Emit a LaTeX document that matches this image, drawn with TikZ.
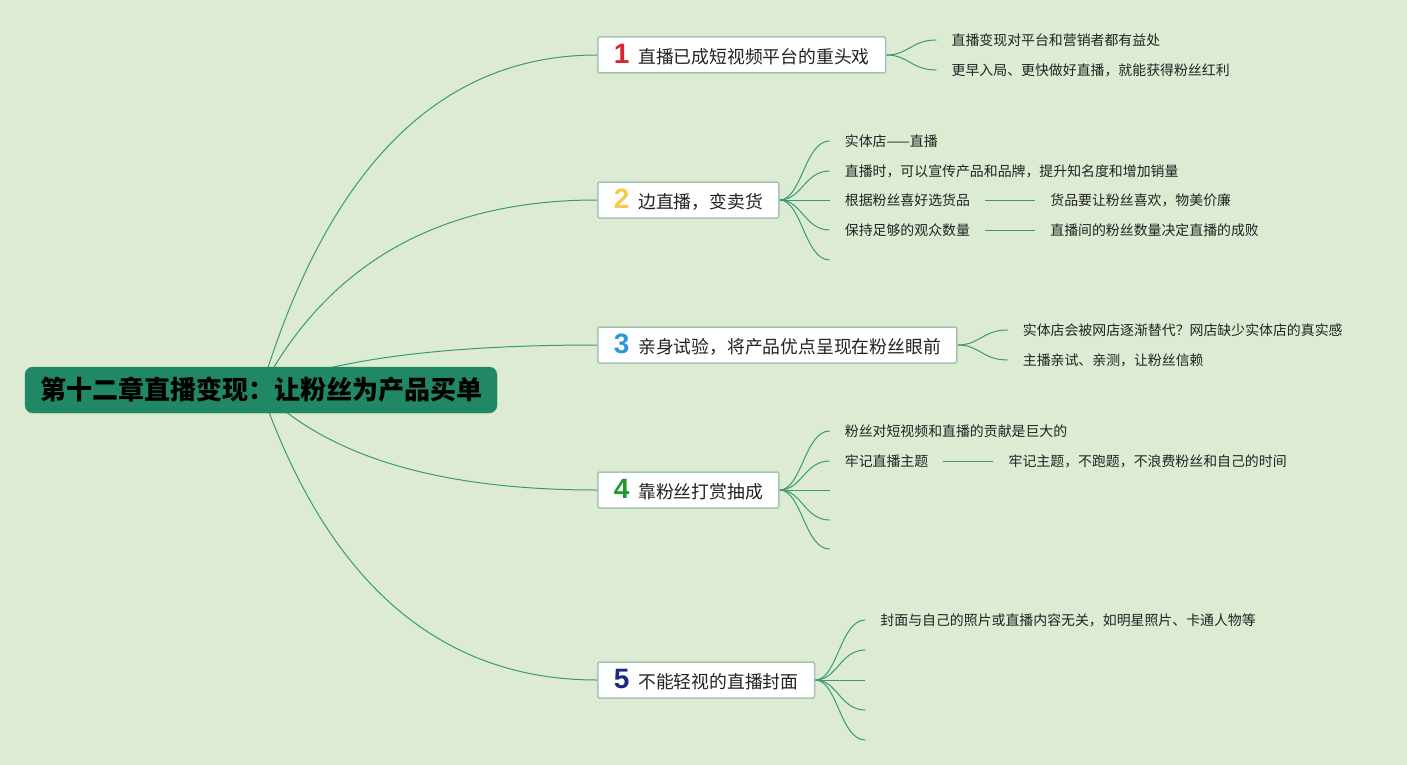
\documentclass[tikz,border=0pt]{standalone}
\usepackage{fontspec}
\setmainfont{Noto Sans CJK SC}
\newfontfamily\numfont{Liberation Sans}
\usepackage{tikz}
\usetikzlibrary{positioning, calc, backgrounds}
\definecolor{paper}{HTML}{DCEBD2}
\definecolor{rootgreen}{HTML}{218866}
\definecolor{linegreen}{HTML}{3A9A72}
\definecolor{boxline}{HTML}{A3C4B4}
\definecolor{ink}{HTML}{222222}
\definecolor{numred}{HTML}{D9252E}
\definecolor{numyellow}{HTML}{F2CB4A}
\definecolor{numblue}{HTML}{2A98DC}
\definecolor{numgreen}{HTML}{1F9A2C}
\definecolor{numnavy}{HTML}{1D2A7C}
\newcommand\rootfont{\fontsize{26pt}{30pt}\selectfont\bfseries}
\newcommand\branchfont{\fontsize{17.8pt}{21pt}\selectfont}
\newcommand\leaffont{\fontsize{13.9pt}{17pt}\selectfont}
\newcommand\badge[2]{{\numfont\bfseries\fontsize{28pt}{28pt}\selectfont\color{#1}#2}\hspace{9pt}}
\tikzset{
  root/.style   = {rectangle, rounded corners=8pt, draw=rootgreen, fill=rootgreen,
                   minimum width=472pt, minimum height=46pt, inner xsep=15pt,
                   font=\rootfont, text=black},
  branch/.style = {rectangle, rounded corners=2pt, draw=boxline, line width=1.5pt,
                   fill=white, anchor=west, minimum height=36pt, inner xsep=16pt,
                   inner ysep=0pt, font=\branchfont, text=ink},
  leaf/.style   = {anchor=west, inner xsep=15pt, inner ysep=2pt, font=\leaffont, text=ink},
  limb/.style   = {draw=linegreen, line width=1pt},
  twig/.style   = {draw=linegreen, line width=1pt}
}
\begin{document}
\begin{tikzpicture}[x=1pt, y=-1pt]
  \useasboundingbox (0,0) rectangle (1407,765);
  \node[root] (root) at (261,390) {第十二章直播变现：让粉丝为产品买单};

  \node[branch] (b1) at (597,55)  {\badge{numred}{1}直播已成短视频平台的重头戏};
  \node[branch] (b2) at (597,200) {\badge{numyellow}{2}边直播，变卖货};
  \node[branch] (b3) at (597,345) {\badge{numblue}{3}亲身试验，将产品优点呈现在粉丝眼前};
  \node[branch] (b4) at (597,490) {\badge{numgreen}{4}靠粉丝打赏抽成};
  \node[branch] (b5) at (597,680) {\badge{numnavy}{5}不能轻视的直播封面};

  \node[leaf] (l11) at ($(b1.east)+(50,-15)$) {直播变现对平台和营销者都有益处};
  \node[leaf] (l12) at ($(b1.east)+(50,15)$)  {更早入局、更快做好直播，就能获得粉丝红利};

  \node[leaf] (l21) at ($(b2.east)+(50,-59)$) {实体店——直播};
  \node[leaf] (l22) at ($(b2.east)+(50,-29)$) {直播时，可以宣传产品和品牌，提升知名度和增加销量};
  \node[leaf] (l23) at ($(b2.east)+(50,0)$)   {根据粉丝喜好选货品};
  \node[leaf] (l24) at ($(b2.east)+(50,30)$)  {保持足够的观众数量};
  \node[leaf] (l25) at ($(b2.east)+(50,60)$)  {};
  \node[leaf] (s23) [right=50pt of l23] {货品要让粉丝喜欢，物美价廉};
  \node[leaf] (s24) [right=50pt of l24] {直播间的粉丝数量决定直播的成败};

  \node[leaf] (l31) at ($(b3.east)+(50,-15)$) {实体店会被网店逐渐替代？网店缺少实体店的真实感};
  \node[leaf] (l32) at ($(b3.east)+(50,15)$)  {主播亲试、亲测，让粉丝信赖};

  \node[leaf] (l41) at ($(b4.east)+(50,-59)$) {粉丝对短视频和直播的贡献是巨大的};
  \node[leaf] (l42) at ($(b4.east)+(50,-29)$) {牢记直播主题};
  \node[leaf] (l43) at ($(b4.east)+(50,0)$)   {};
  \node[leaf] (l44) at ($(b4.east)+(50,30)$)  {};
  \node[leaf] (l45) at ($(b4.east)+(50,59)$)  {};
  \node[leaf] (s42) [right=50pt of l42] {牢记主题，不跑题，不浪费粉丝和自己的时间};

  \node[leaf] (l51) at ($(b5.east)+(50,-60)$) {封面与自己的照片或直播内容无关，如明星照片、卡通人物等};
  \node[leaf] (l52) at ($(b5.east)+(50,-30)$) {};
  \node[leaf] (l53) at ($(b5.east)+(50,0)$)   {};
  \node[leaf] (l54) at ($(b5.east)+(50,30)$)  {};
  \node[leaf] (l55) at ($(b5.east)+(50,60)$)  {};

  \begin{scope}[on background layer]
    \fill[paper] (0,0) rectangle (1407,765);
    % root to main topics
    \draw[limb] (root.center) .. controls ($(root.center)+(67,-223)$) and ($(b1.west)+(-157,0)$) .. (b1.west);
    \draw[limb] (root.center) .. controls ($(root.center)+(67,-127)$) and ($(b2.west)+(-157,0)$) .. (b2.west);
    \draw[limb] (root.center) .. controls ($(root.center)+(67,-30)$) and ($(b3.west)+(-157,0)$) .. (b3.west);
    \draw[limb] (root.center) .. controls ($(root.center)+(67,67)$) and ($(b4.west)+(-157,0)$) .. (b4.west);
    \draw[limb] (root.center) .. controls ($(root.center)+(67,193)$) and ($(b5.west)+(-157,0)$) .. (b5.west);
    % topics to subtopics
    \draw[twig] (b1.east) .. controls +(22,0) and +(-25,0) .. (l11.west);
    \draw[twig] (b1.east) .. controls +(22,0) and +(-25,0) .. (l12.west);
    \draw[twig] (b2.east) .. controls +(22,0) and +(-25,0) .. (l21.west);
    \draw[twig] (b2.east) .. controls +(22,0) and +(-25,0) .. (l22.west);
    \draw[twig] (b2.east) -- (l23.west);
    \draw[twig] (b2.east) .. controls +(22,0) and +(-25,0) .. (l24.west);
    \draw[twig] (b2.east) .. controls +(22,0) and +(-25,0) .. (l25.west);
    \draw[twig] (l23) -- (s23);
    \draw[twig] (l24) -- (s24);
    \draw[twig] (b3.east) .. controls +(22,0) and +(-25,0) .. (l31.west);
    \draw[twig] (b3.east) .. controls +(22,0) and +(-25,0) .. (l32.west);
    \draw[twig] (b4.east) .. controls +(22,0) and +(-25,0) .. (l41.west);
    \draw[twig] (b4.east) .. controls +(22,0) and +(-25,0) .. (l42.west);
    \draw[twig] (b4.east) -- (l43.west);
    \draw[twig] (b4.east) .. controls +(22,0) and +(-25,0) .. (l44.west);
    \draw[twig] (b4.east) .. controls +(22,0) and +(-25,0) .. (l45.west);
    \draw[twig] (l42) -- (s42);
    \draw[twig] (b5.east) .. controls +(22,0) and +(-25,0) .. (l51.west);
    \draw[twig] (b5.east) .. controls +(22,0) and +(-25,0) .. (l52.west);
    \draw[twig] (b5.east) -- (l53.west);
    \draw[twig] (b5.east) .. controls +(22,0) and +(-25,0) .. (l54.west);
    \draw[twig] (b5.east) .. controls +(22,0) and +(-25,0) .. (l55.west);
  \end{scope}
\end{tikzpicture}
\end{document}
